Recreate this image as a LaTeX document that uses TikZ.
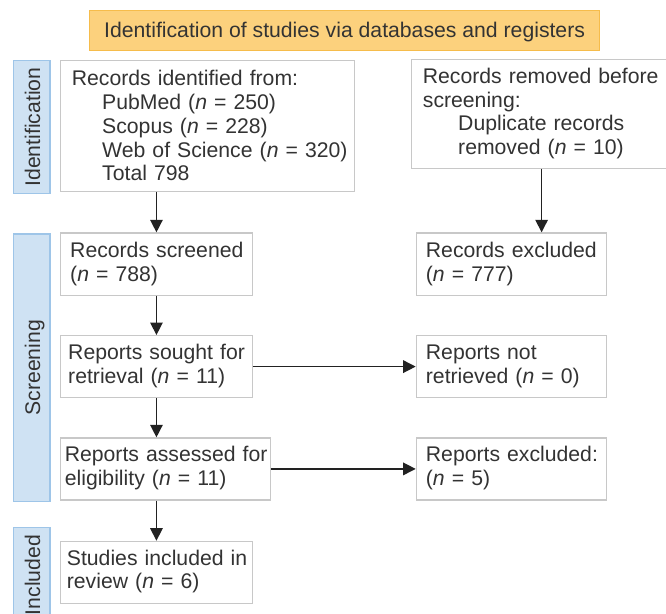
\documentclass[tikz,border=0pt]{standalone}
\usepackage{fontspec}
\setmainfont{Liberation Sans}
\usetikzlibrary{arrows.meta}
\definecolor{txtc}{HTML}{333333}
\definecolor{boxc}{HTML}{C8C8C8}
\definecolor{ttlfill}{HTML}{FCD17D}
\definecolor{ttldraw}{HTML}{F6BC4B}
\definecolor{sidefill}{HTML}{CFE2F3}
\definecolor{sidedraw}{HTML}{9EC5E8}
\definecolor{arrc}{HTML}{222222}
\newcommand\lnstrut{\rule[-6pt]{0pt}{22pt}}
\setlength\parindent{0pt}
\begin{document}
\begin{tikzpicture}[x=1pt,y=-1pt,
  box/.style={draw=boxc, line width=1.2pt, fill=white, inner sep=0pt, anchor=north west},
  txt/.style={anchor=north west, inner sep=0pt, text width=300pt, align=left, text=txtc, font=\fontsize{21.2}{23.7}\selectfont},
  sidebar/.style={draw=sidedraw, fill=sidefill, line width=1.2pt, inner sep=0pt, anchor=north west, minimum width=36.6pt},
  sidelab/.style={rotate=90, text=txtc, font=\fontsize{21.2}{24}\selectfont, text height=15.2pt, text depth=0pt, inner sep=0pt},
  ttl/.style={draw=ttldraw, fill=ttlfill, line width=1.2pt, inner sep=0pt, anchor=north west, text=txtc, font=\fontsize{21.2}{24}\selectfont, text height=15.2pt, text depth=0pt},
  arr/.style={draw=arrc, line width=1.4pt, -{Triangle[length=12.5pt,width=12.5pt]}},
]
\useasboundingbox (0,0) rectangle (666,613);

% title
\node[ttl, minimum width=510pt, minimum height=40.5pt] (title) at (89,9.5) {Identification of studies via databases and registers};

% side bars
\node[sidebar, minimum height=133pt] (s1) at (12.7,60) {};
\node[sidelab] (s1l) at ([xshift=1pt]s1.center) {Identification};
\node[sidebar, minimum height=267.7pt] (s2) at (12.7,233.3) {};
\node[sidelab] (s2l) at ([xshift=1pt]s2.center) {Screening};
\node[sidebar, minimum height=95pt] (s3) at (12.7,527) {};
\node[sidelab] (s3l) at ([xshift=1pt]s3.center) {Included};

% boxes
\node[box, minimum width=294pt, minimum height=131.2pt] (b1) at (60,59.5) {};
\node[box, minimum width=260pt, minimum height=108.7pt] (b2) at (411,59) {};
\node[box, minimum width=191.7pt, minimum height=62.2pt] (b3) at (60,232.3) {};
\node[box, minimum width=190.3pt, minimum height=62.2pt] (b4) at (415.7,232.3) {};
\node[box, minimum width=191.7pt, minimum height=62pt] (b5) at (60,335) {};
\node[box, minimum width=190.3pt, minimum height=62pt] (b6) at (415.7,335) {};
\node[box, minimum width=210pt, minimum height=62pt] (b7) at (60,437.3) {};
\node[box, minimum width=190.3pt, minimum height=62pt] (b8) at (415.7,437.3) {};
\node[box, minimum width=191.7pt, minimum height=62pt] (b9) at (60,540.7) {};

% texts
\node[txt] (b1t) at (71.7,69.7) {\lnstrut Records identified from:\\
\hspace*{30.3pt}\lnstrut PubMed (\textit{n} = 250)\\
\hspace*{30.3pt}\lnstrut Scopus (\textit{n} = 228)\\
\hspace*{30.3pt}\lnstrut Web of Science (\textit{n} = 320)\\
\hspace*{30.3pt}\lnstrut Total 798};
\node[txt] (b2t) at (422.7,67.3) {\lnstrut Records removed before\\
\lnstrut screening:\\
\hspace*{35.3pt}\lnstrut Duplicate records\\
\hspace*{35.3pt}\lnstrut removed (\textit{n} = 10)};
\node[txt] (b3t) at (70,241.3) {\lnstrut Records screened\\ \lnstrut (\textit{n} = 788)};
\node[txt] (b4t) at (425.7,241.3) {\lnstrut Records excluded\\ \lnstrut (\textit{n} = 777)};
\node[txt] (b5t) at (68,343.3) {\lnstrut Reports sought for\\ \lnstrut retrieval (\textit{n} = 11)};
\node[txt] (b6t) at (425.7,343.3) {\lnstrut Reports not\\ \lnstrut retrieved (\textit{n} = 0)};
\node[txt] (b7t) at (64.6,445.7) {\lnstrut Reports assessed for\\ \lnstrut eligibility (\textit{n} = 11)};
\node[txt] (b8t) at (425.7,445.7) {\lnstrut Reports excluded:\\ \lnstrut (\textit{n} = 5)};
\node[txt] (b9t) at (66.7,549) {\lnstrut Studies included in\\ \lnstrut review (\textit{n} = 6)};

% connectors
\draw[arr] (b1.south -| b3.north) -- (b3.north);
\draw[arr] (b3.south) -- (b5.north);
\draw[arr] (b5.south) -- (b5.south |- b7.north);
\draw[arr] (b7.south -| b9.north) -- (b9.north);
\draw[arr] (b2.south) -- (b2.south |- b4.north);
\draw[arr] (b5.east) -- (b6.west);
\draw[arr] (b7.east) -- (b8.west |- b7.east);
\end{tikzpicture}
\end{document}
